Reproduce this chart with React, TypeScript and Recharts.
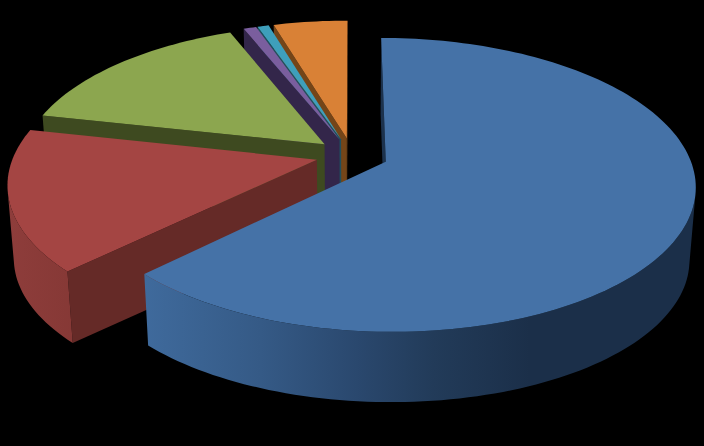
import React from 'react';
import { PieChart, Pie } from 'recharts';

const categories = ['Orange', 'Teal', 'Purple', 'Green', 'Red', 'Blue'];
const values = [4.6, 0.7, 0.8, 15.45, 15.75, 62.7];
const topColors = ['#D98136', '#3E9FBB', '#7A5E9E', '#8CA64F', '#A44543', '#4572A7'];
const cutColors = ['#744518', '#1F4F5E', '#33264A', '#3E4A20', '#652A27', '#1C324D'];
const rimStops = [
  [[0, '#8A5020'], [1, '#8A5020']],
  [[0, '#25606F'], [1, '#25606F']],
  [[0, '#3F2F58'], [1, '#3F2F58']],
  [[0, '#546A2C'], [1, '#546A2C']],
  [[0, '#8E3D3B'], [1, '#853835']],
  [[0, '#3F6A9C'], [0.3, '#355A86'], [0.55, '#2A486E'], [0.75, '#223B59'], [1, '#1B2F49']],
];

const tableData = categories.map((name, i) => ({ name, value: values[i] }));

const EXPLODE = 0.12;
const SQUASH = 0.466;
const PERSP = -0.157;
const FLOOR = 0.9815;
const VANISH_Y = 4130;

type Pt = [number, number];

const shoelace = (pts: Pt[]) => {
  let s = 0;
  pts.forEach((p, i) => {
    const q = pts[(i + 1) % pts.length];
    s += p[0] * q[1] - q[0] * p[1];
  });
  return s;
};

function Slice(props: any) {
  const { cx, cy, outerRadius: R, startAngle, endAngle, index } = props;
  const rad = Math.PI / 180;
  const mid = ((startAngle + endAngle) / 2) * rad;
  const ox = Math.cos(mid) * EXPLODE;
  const oy = -Math.sin(mid) * EXPLODE;
  const project = (X: number, Y: number): Pt => {
    const gx = X + ox;
    const gy = Y + oy;
    const w = 1 + PERSP * gy;
    return [cx + (R * gx) / w, cy + (R * SQUASH * gy) / w];
  };
  const down = ([x, y]: Pt): Pt => [cx + (x - cx) * FLOOR, VANISH_Y + (y - VANISH_Y) * FLOOR];
  const steps = Math.max(4, Math.ceil(Math.abs(endAngle - startAngle) / 1.5));
  const arc: Pt[] = [];
  for (let i = 0; i <= steps; i++) {
    const a = (startAngle + ((endAngle - startAngle) * i) / steps) * rad;
    arc.push(project(Math.cos(a), -Math.sin(a)));
  }
  const apex = project(0, 0);
  const toPath = (pts: Pt[]) =>
    'M' + pts.map((p) => `${p[0].toFixed(2)},${p[1].toFixed(2)}`).join('L') + 'Z';
  const first = arc[0];
  const last = arc[arc.length - 1];
  const gradId = `rim-${index}`;

  // only the rim steps that face the viewer are drawn, as contiguous runs
  const runs: Pt[][] = [];
  let run: Pt[] = [];
  for (let i = 0; i < arc.length - 1; i++) {
    const quad: Pt[] = [arc[i], arc[i + 1], down(arc[i + 1]), down(arc[i])];
    if (shoelace(quad) > 0) {
      if (run.length === 0) run.push(arc[i]);
      run.push(arc[i + 1]);
    } else if (run.length) {
      runs.push(run);
      run = [];
    }
  }
  if (run.length) runs.push(run);

  const startCut: Pt[] = [apex, first, down(first), down(apex)];
  const endCut: Pt[] = [apex, last, down(last), down(apex)];

  return (
    <g>
      <defs>
        <linearGradient
          id={gradId}
          gradientUnits="userSpaceOnUse"
          x1={index === 4 ? 8 : 145}
          x2={index === 4 ? 80 : 530}
          y1={0}
          y2={0}
        >
          {rimStops[index].map(([o, c]: any, i: number) => (
            <stop key={i} offset={o} stopColor={c} />
          ))}
        </linearGradient>
      </defs>
      {shoelace(startCut) > 0 && <path d={toPath(startCut)} fill={cutColors[index]} />}
      {shoelace(endCut) < 0 && <path d={toPath(endCut)} fill={cutColors[index]} />}
      {runs.map((r, i) => (
        <path key={i} d={toPath([...r, ...r.map(down).reverse()])} fill={`url(#${gradId})`} />
      ))}
      <path d={toPath([apex, ...arc])} fill={topColors[index]} />
    </g>
  );
}

export default function App() {
  return (
    <div style={{ position: 'absolute', left: 0, top: 0, width: 704, height: 446, background: '#000', overflow: 'hidden' }}>
      <PieChart width={704} height={446} margin={{ top: 0, right: 0, bottom: 0, left: 0 }}>
        <Pie
          data={tableData}
          dataKey="value"
          nameKey="name"
          cx={352}
          cy={155}
          innerRadius={0}
          outerRadius={303}
          startAngle={90}
          endAngle={450}
          stroke="none"
          isAnimationActive={false}
          label={false}
          labelLine={false}
          shape={Slice}
        />
      </PieChart>
    </div>
  );
}
